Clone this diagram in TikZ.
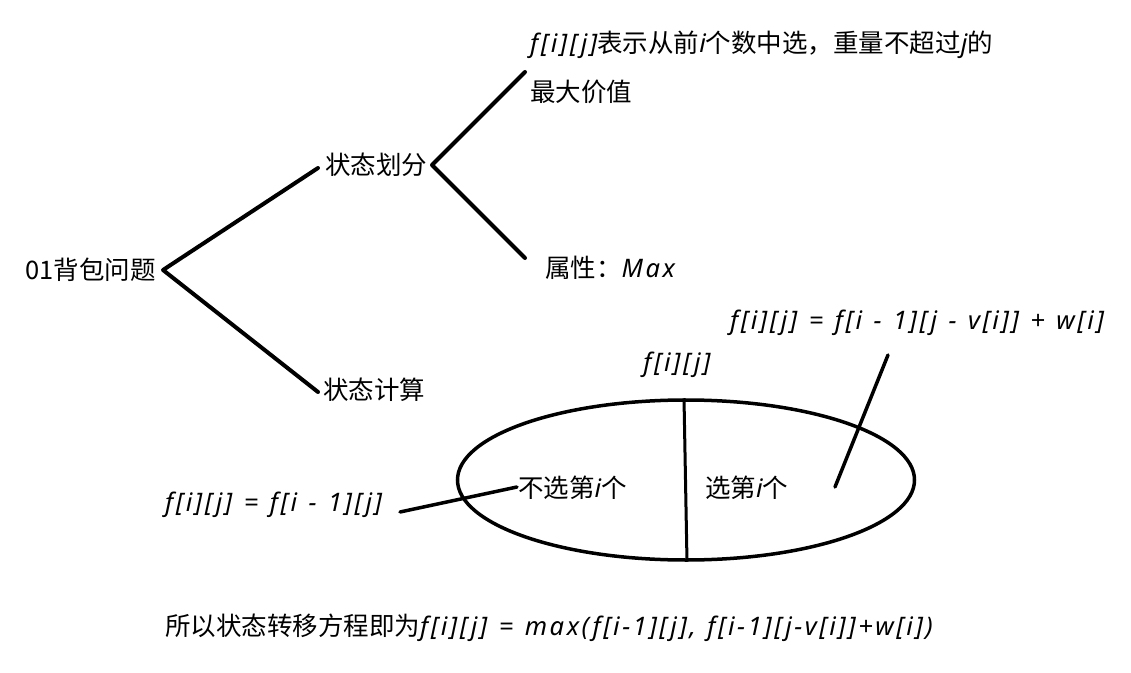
\documentclass[tikz,border=0pt]{standalone}
\usepackage{fontspec}
\setmainfont{Noto Sans CJK SC}
\newfontfamily\hwfont{Noto Sans}[LetterSpace=10, WordSpace=1.25]
\newcommand{\fm}[1]{{\hwfont\itshape #1}}
\usetikzlibrary{shapes.geometric}
\tikzset{
  txt/.style={inner sep=0pt, font=\fontsize{25.5bp}{30bp}\selectfont, anchor=west},
  branch/.style={line width=4bp, line cap=round, line join=round},
  pointer/.style={line width=3.5bp, line cap=round},
}
\begin{document}
\begin{tikzpicture}[x=1bp,y=-1bp]
\useasboundingbox[fill=white] (0,0) rectangle (1131,673);
% tree
\node[txt] (root) at (25,270) {01背包问题};
\node[txt] (sf) at (325,165) {状态划分};
\node[txt] (sc) at (323,390) {状态计算};
\node[txt] (def1) at (530,45) {\fm{f[i][j]}表示从前\fm{i}个数中选，重量不超过\fm{j}的};
\node[txt] (def2) at (530,92) {最大价值};
\node[txt] (attr) at (545,268) {属性：\fm{Max}};
\coordinate (v1) at (163,270);
\coordinate (v2) at (432,165);
\coordinate (t1) at (525,72);
\coordinate (t2) at (525,258);
\coordinate (a1) at (318,168);
\coordinate (a2) at (318,392);
\draw[branch] (a1) -- (v1) -- (a2);
\draw[branch] (t1) -- (v2) -- (t2);
% ellipse
\node[draw, ellipse, line width=3.5bp, minimum width=457bp, minimum height=160bp, inner sep=0pt] (ell) at (686,480) {};
\draw[line width=3bp] ([xshift=-2bp]ell.north) -- ([xshift=1bp]ell.south);
\node[txt, anchor=center] (fij) at (677,365) {\fm{f[i][j]}};
\node[txt] (nosel) at (518,488) {不选第\fm{i}个};
\node[txt] (sel) at (705,488) {选第\fm{i}个};
\node[txt] (fl) at (165,505) {\fm{f[i][j] = f[i - 1][j]}};
\node[txt] (fr) at (730,323) {\fm{f[i][j] = f[i - 1][j - v[i]] + w[i]}};
\coordinate (pl1) at (400,512);
\coordinate (pl2) at (517,487);
\coordinate (pr1) at (835,487);
\coordinate (pr2) at (888,355);
\draw[pointer] (pl1) -- (pl2);
\draw[pointer] (pr1) -- (pr2);
% bottom
\node[txt] (final) at (165,628) {所以状态转移方程即为\fm{f[i][j] = max(f[i-1][j], f[i-1][j-v[i]]+w[i])}};
\end{tikzpicture}
\end{document}
